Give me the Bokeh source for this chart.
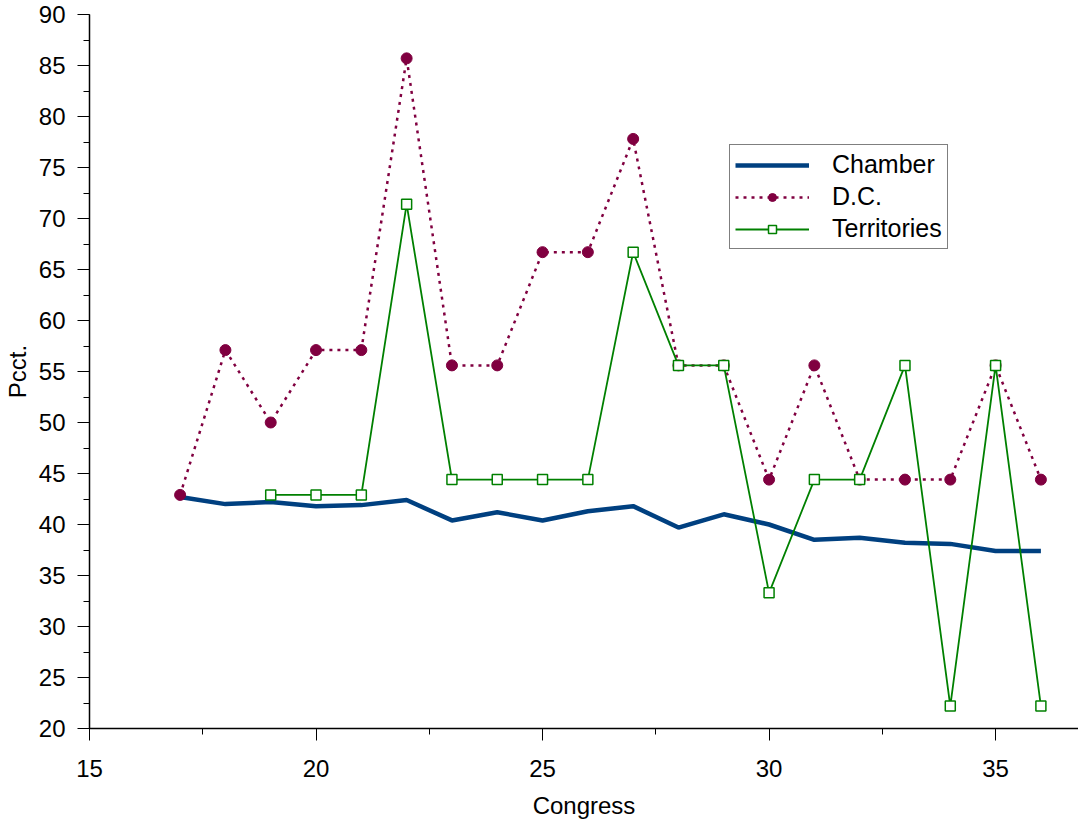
import numpy as np
from bokeh.plotting import figure
from bokeh.models import SingleIntervalTicker, Legend, LegendItem, Range1d, ColumnDataSource
from bokeh.embed import file_html
from bokeh.resources import INLINE

congress = [17, 18, 19, 20, 21, 22, 23, 24, 25, 26, 27, 28, 29, 30, 31, 32, 33, 34, 35, 36]
chamber = [42.7, 42.0, 42.2, 41.8, 41.9, 42.4, 40.4, 41.2, 40.4, 41.3, 41.8, 39.7, 41.0, 40.0, 38.5, 38.7, 38.2, 38.1, 37.4, 37.4]
dc = [42.9, 57.1, 50.0, 57.1, 57.1, 85.7, 55.6, 55.6, 66.7, 66.7, 77.8, 55.6, 55.6, 44.4, 55.6, 44.4, 44.4, 44.4, 55.6, 44.4]
territories = [np.nan, np.nan, 42.9, 42.9, 42.9, 71.4, 44.4, 44.4, 44.4, 44.4, 66.7, 55.6, 55.6, 33.3, 44.4, 44.4, 55.6, 22.2, 55.6, 22.2]

FONT = "Liberation Sans"
FS = "24px"

p = figure(width=1078, height=823, output_backend="svg", toolbar_location=None,
           x_range=Range1d(15, 36.83), y_range=Range1d(20, 90),
           min_border_left=89, min_border_top=14, min_border_bottom=95, min_border_right=0)
p.outline_line_color = None
p.xgrid.visible = False
p.ygrid.visible = False

src = ColumnDataSource(dict(x=congress, ch=chamber, dc=dc, te=territories))

r_ch = p.line("x", "ch", source=src, line_color="#004080", line_width=4.5)
r_dc_l = p.line("x", "dc", source=src, line_color="#800040", line_width=2.5, line_dash="3 5")
r_dc_m = p.scatter("x", "dc", source=src, marker="circle", size=11, fill_color="#800040", line_color="#800040")
r_te_l = p.line("x", "te", source=src, line_color="#008000", line_width=1.8)
r_te_m = p.scatter("x", "te", source=src, marker="square", size=10, fill_color="white", line_color="#008000", line_width=1.5)

for ax in (p.xaxis[0], p.yaxis[0]):
    ax.ticker = SingleIntervalTicker(interval=5, num_minor_ticks=2)
    ax.major_label_text_font = FONT
    ax.major_label_text_font_size = FS
    ax.major_label_text_color = "black"
    ax.axis_label_text_font = FONT
    ax.axis_label_text_font_size = FS
    ax.axis_label_text_font_style = "normal"
    ax.axis_label_text_color = "black"
    ax.axis_line_color = "black"
    ax.axis_line_width = 1.5
    ax.major_tick_line_color = "black"
    ax.minor_tick_line_color = "black"
    ax.major_tick_in = 0
    ax.minor_tick_in = 0
    ax.major_tick_out = 12
    ax.minor_tick_out = 6

p.xaxis.axis_label = "Congress"
p.yaxis.axis_label = "Pcct."
p.yaxis.major_label_standoff = 12
p.xaxis.major_label_standoff = 19
p.yaxis.axis_label_standoff = 5
p.xaxis.axis_label_standoff = 12

legend = Legend(items=[
    LegendItem(label="Chamber", renderers=[r_ch]),
    LegendItem(label="D.C.", renderers=[r_dc_l, r_dc_m]),
    LegendItem(label="Territories", renderers=[r_te_l, r_te_m]),
], location=(640, 479))
legend.label_text_font = FONT
legend.label_text_font_size = "25px"
legend.label_text_color = "black"
legend.glyph_width = 74
legend.glyph_height = 20
legend.label_height = 20
legend.label_standoff = 23
legend.spacing = 3
legend.padding = 5
legend.margin = 0
legend.border_line_color = "black"
legend.border_line_width = 1.5
legend.background_fill_alpha = 1
p.add_layout(legend, "center")

open("out.html", "w").write(file_html(p, INLINE))
